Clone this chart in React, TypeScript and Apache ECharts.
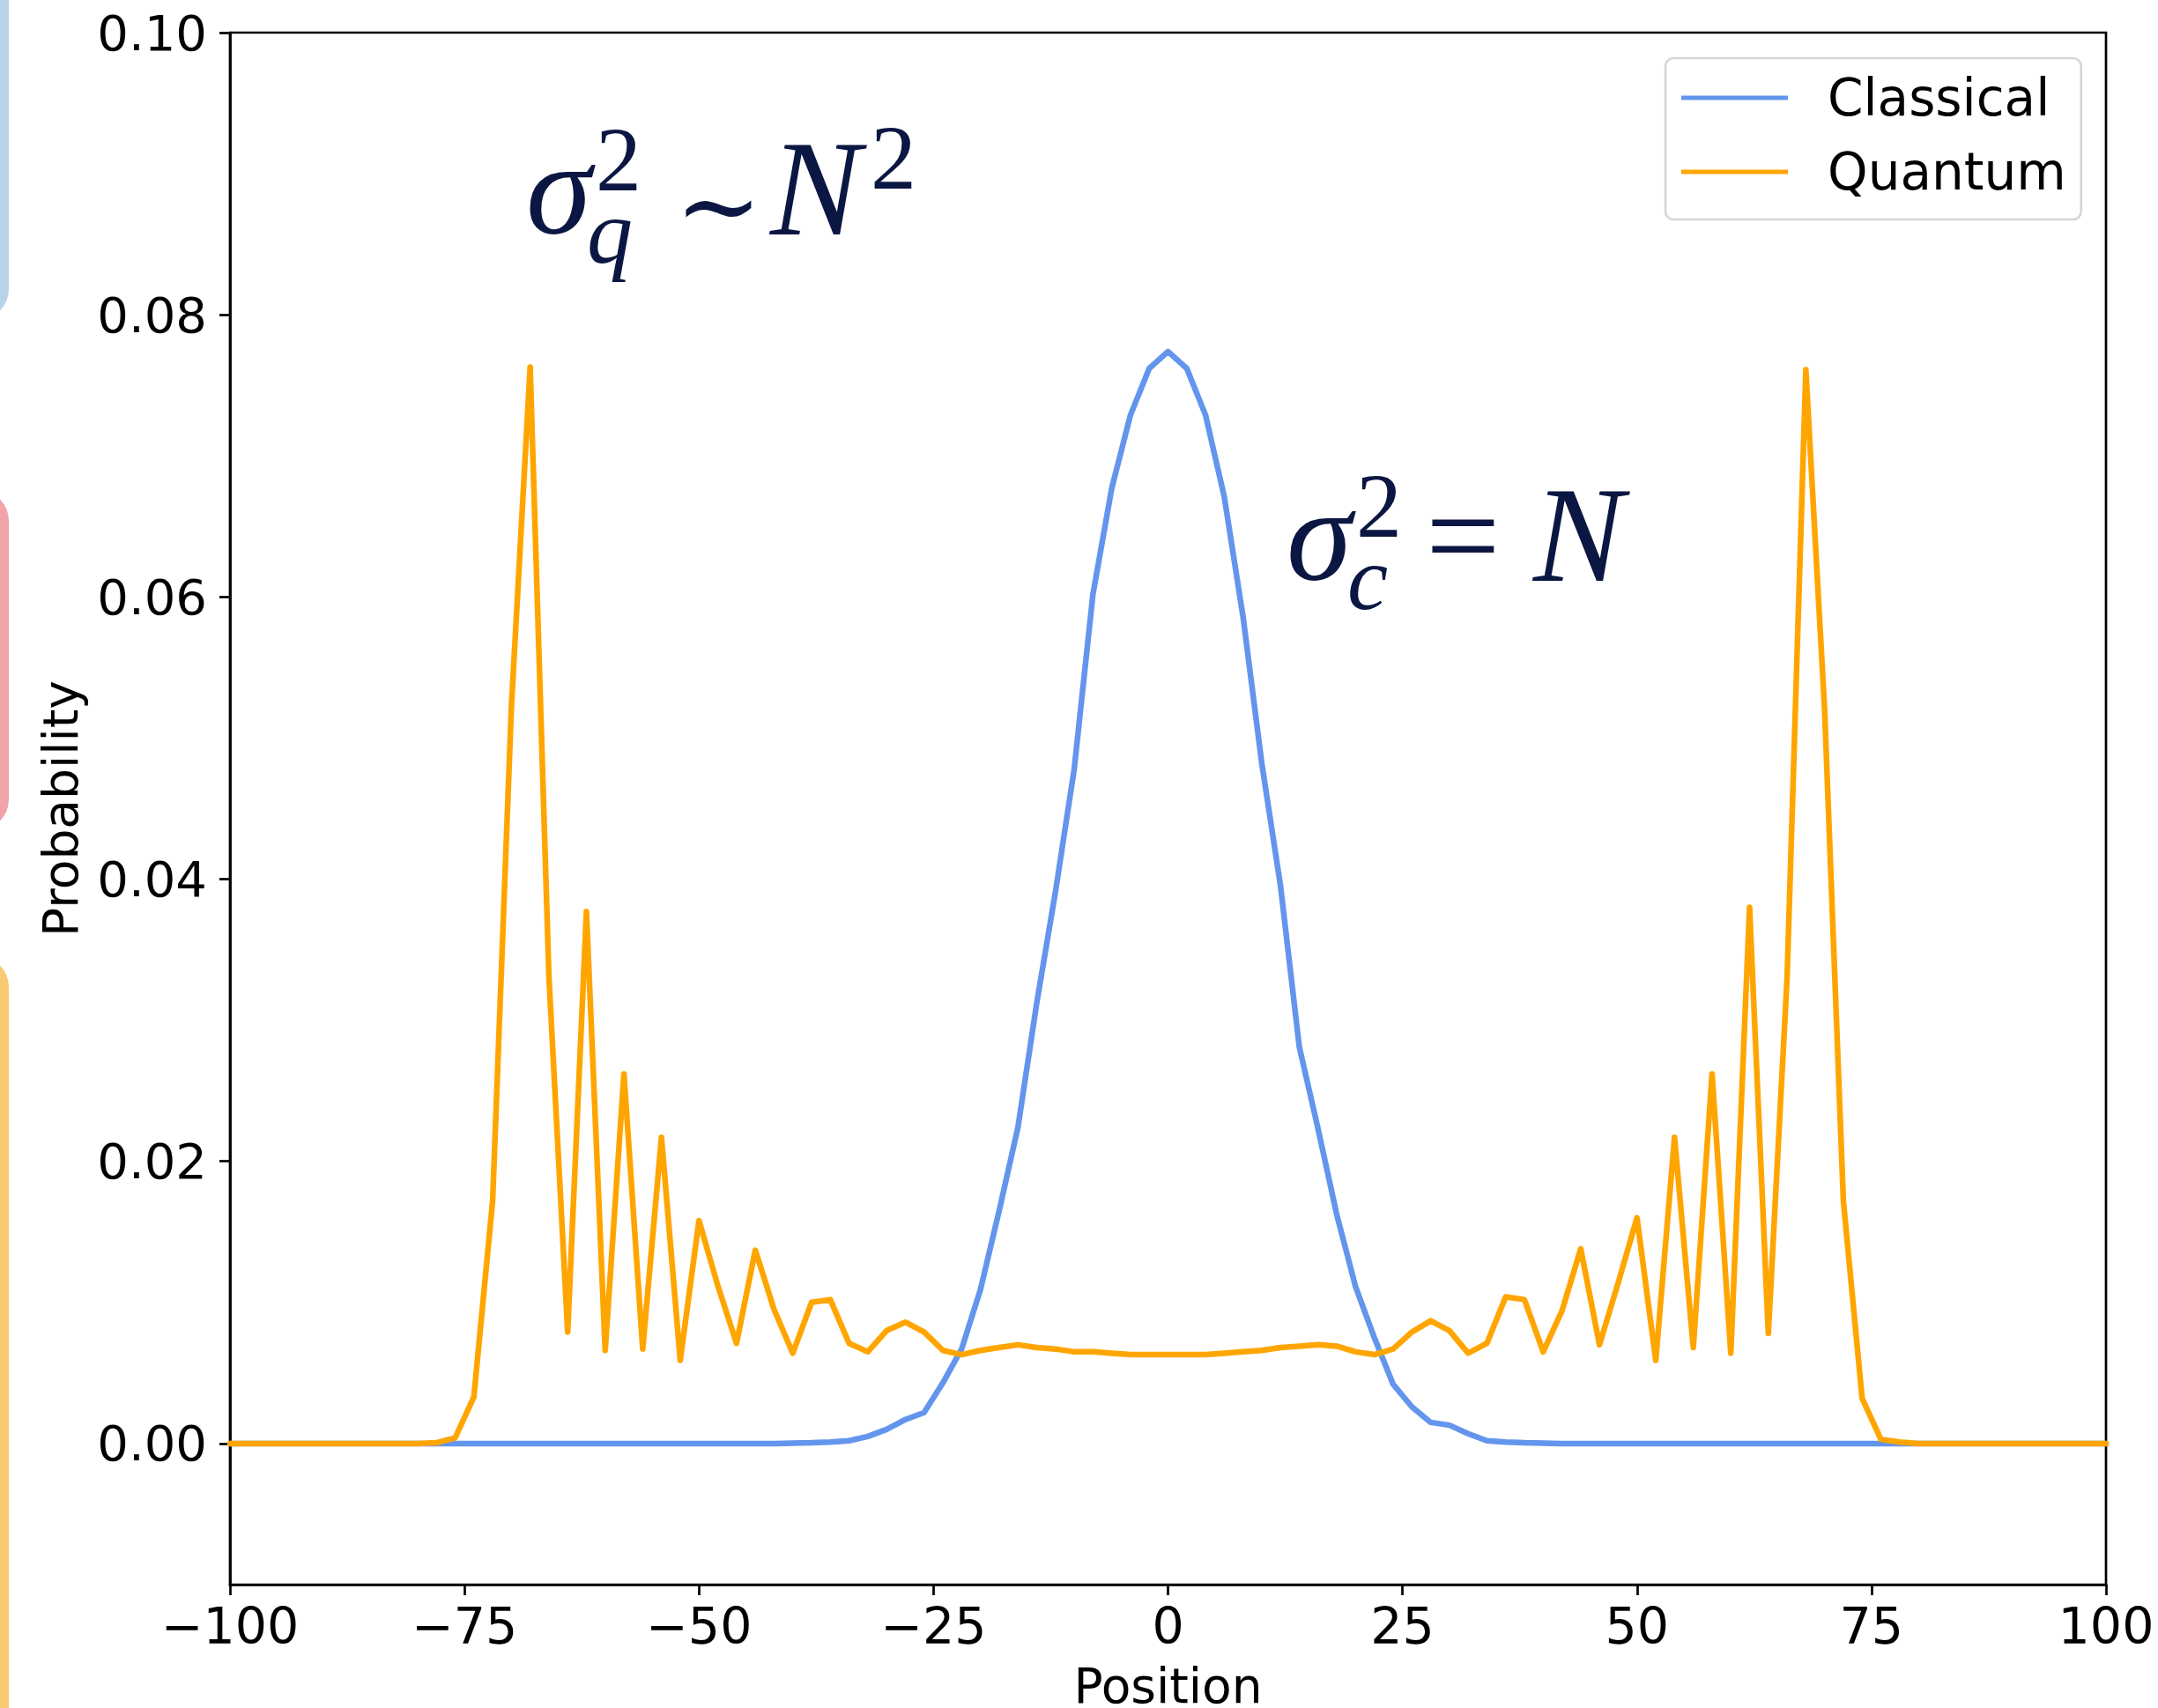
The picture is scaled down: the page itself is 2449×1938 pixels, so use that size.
import React, { useEffect, useRef } from 'react';
import * as echarts from 'echarts';

// Positions (even sites of the walk)
const positions = [
  -100, -98, -96, -94, -92, -90, -88, -86, -84, -82,
  -80, -78, -76, -74, -72, -70, -68, -66, -64, -62,
  -60, -58, -56, -54, -52, -50, -48, -46, -44, -42,
  -40, -38, -36, -34, -32, -30, -28, -26, -24, -22,
  -20, -18, -16, -14, -12, -10, -8, -6, -4, -2,
  0, 2, 4, 6, 8, 10, 12, 14, 16, 18,
  20, 22, 24, 26, 28, 30, 32, 34, 36, 38,
  40, 42, 44, 46, 48, 50, 52, 54, 56, 58,
  60, 62, 64, 66, 68, 70, 72, 74, 76, 78,
  80, 82, 84, 86, 88, 90, 92, 94, 96, 98,
  100,
];

const classical = [
  0, 0, 0, 0, 0, 0, 0, 0, 0, 0,
  0, 0, 0, 0, 0, 0, 0, 0, 0, 0,
  0, 0, 0, 0, 0, 0, 0, 0, 0, 0,
  0.00003, 0.00005, 0.0001, 0.0002, 0.0005, 0.0010, 0.0017, 0.0022, 0.0043, 0.0067,
  0.0109, 0.0165, 0.0224, 0.0312, 0.0391, 0.0478, 0.0602, 0.0677, 0.0729, 0.0762,
  0.0774, 0.0762, 0.0729, 0.0671, 0.0586, 0.0482, 0.0395, 0.0281, 0.0223, 0.0162,
  0.0111, 0.0075, 0.0042, 0.0026, 0.0015, 0.0013, 0.0007, 0.0002, 0.0001, 0.00005,
  0.00003, 0, 0, 0, 0, 0, 0, 0, 0, 0,
  0, 0, 0, 0, 0, 0, 0, 0, 0, 0,
  0, 0, 0, 0, 0, 0, 0, 0, 0, 0,
  0,
];

const quantum = [
  0, 0, 0, 0, 0, 0, 0, 0, 0, 0,
  0, 0.00005, 0.0004, 0.0033, 0.0172, 0.0522, 0.0763, 0.0331, 0.0079, 0.0377,
  0.0066, 0.0262, 0.0067, 0.0217, 0.0059, 0.0158, 0.0112, 0.0071, 0.0137, 0.0095,
  0.0064, 0.0100, 0.0102, 0.0071, 0.0065, 0.0080, 0.0086, 0.0079, 0.0066, 0.0063,
  0.0066, 0.0068, 0.0070, 0.0068, 0.0067, 0.0065, 0.0065, 0.0064, 0.0063, 0.0063,
  0.0063, 0.0063, 0.0063, 0.0064, 0.0065, 0.0066, 0.0068, 0.0069, 0.0070, 0.0069,
  0.0065, 0.0063, 0.0067, 0.0079, 0.0087, 0.0080, 0.0064, 0.0071, 0.0104, 0.0102,
  0.0065, 0.0094, 0.0138, 0.0070, 0.0114, 0.0160, 0.0059, 0.0217, 0.0068, 0.0262,
  0.0064, 0.0380, 0.0078, 0.0330, 0.0761, 0.0520, 0.0172, 0.0032, 0.0003, 0.0001,
  0, 0, 0, 0, 0, 0, 0, 0, 0, 0,
  0,
];

const seriesNames = ['Classical', 'Quantum'];
const yTicks = [0, 0.02, 0.04, 0.06, 0.08, 0.1];
const xAxisTitle = 'Position';
const yAxisTitle = 'Probability';

const BLUE = '#6495ED';
const ORANGE = '#FFA500';
const MATH = '#0b1742';

function mathText(text: string, x: number, yCenter: number, size: number, italic: boolean, family = 'Liberation Serif', lineHeight?: number) {
  return {
    type: 'text',
    x,
    y: yCenter,
    z: 20,
    style: {
      text,
      fill: MATH,
      fontSize: size,
      fontFamily: family,
      fontStyle: italic ? 'italic' : 'normal',
      lineHeight: lineHeight ?? Math.round(size * 0.62),
      align: 'left',
      verticalAlign: 'middle',
    },
  };
}

// superscript over subscript, as one two-line text (rich so the lower one is italic)
function scripts(sup: string, sub: string, x: number, supCenter: number, subCenter: number, size: number) {
  const gap = subCenter - supCenter;
  return {
    type: 'text',
    x,
    y: (supCenter + subCenter) / 2,
    z: 20,
    style: {
      text: `{u|${sup}}\n{d|${sub}}`,
      fill: MATH,
      fontSize: size,
      fontFamily: 'Liberation Serif',
      align: 'left',
      verticalAlign: 'middle',
      lineHeight: gap,
      rich: {
        u: { fontSize: size, fontFamily: 'Liberation Serif', fill: MATH, lineHeight: gap, padding: [0, 0, 0, 10] },
        d: { fontSize: size, fontFamily: 'Liberation Serif', fontStyle: 'italic', fill: MATH, lineHeight: gap },
      },
    },
  };
}

export default function App() {
  const ref = useRef<HTMLDivElement>(null);
  useEffect(() => {
    document.body.style.margin = '0';
    document.body.style.overflow = 'hidden';
    const chart = echarts.init(ref.current as HTMLDivElement, null, { renderer: 'svg' });
    const fmtX = (v: number) => (v < 0 ? '\u2212' + Math.abs(v) : String(v));
    const option: any = {
      animation: false,
      backgroundColor: '#ffffff',
      textStyle: { fontFamily: 'DejaVu Sans' },
      grid: {
        left: 261,
        right: 59,
        top: 37,
        bottom: 140,
        show: true,
        borderColor: '#000',
        borderWidth: 2.7,
        containLabel: false,
        outerBoundsMode: 'none',
      },
      legend: {
        orient: 'vertical',
        left: 1890,
        top: 66,
        icon: 'rect',
        itemWidth: 121,
        itemHeight: 5,
        itemGap: 22,
        padding: [14, 17, 23, 18],
        borderColor: '#d6d6d6',
        borderWidth: 2.7,
        borderRadius: 9,
        backgroundColor: 'rgba(255,255,255,0.8)',
        textStyle: {
          fontSize: 58,
          lineHeight: 62,
          fontFamily: 'DejaVu Sans',
          color: '#000',
          padding: [0, 0, 0, 40],
        },
        data: seriesNames,
      },
      xAxis: {
        type: 'value',
        min: -100,
        max: 100,
        interval: 25,
        name: xAxisTitle,
        nameLocation: 'middle',
        nameGap: 95,
        nameTextStyle: { fontSize: 55, lineHeight: 40, color: '#000', fontFamily: 'DejaVu Sans' },
        axisLine: { show: true, onZero: false, lineStyle: { color: '#000', width: 2.7 } },
        axisTick: { show: true, length: 12, lineStyle: { color: '#000', width: 2.7 } },
        axisLabel: { margin: 18, fontSize: 57, color: '#000', fontFamily: 'DejaVu Sans', formatter: fmtX },
        splitLine: { show: false },
      },
      yAxis: {
        type: 'value',
        min: -0.01,
        max: 0.1,
        name: yAxisTitle,
        nameLocation: 'middle',
        nameGap: 165,
        nameTextStyle: { fontSize: 55, color: '#000', fontFamily: 'DejaVu Sans' },
        axisLine: { show: true, onZero: false, lineStyle: { color: '#000', width: 2.7 } },
        axisTick: { show: true, length: 12, customValues: yTicks, lineStyle: { color: '#000', width: 2.7 } },
        axisLabel: {
          margin: 26,
          fontSize: 56,
          color: '#000',
          fontFamily: 'DejaVu Sans',
          customValues: yTicks,
          formatter: (v: number) => v.toFixed(2),
        },
        splitLine: { show: false },
      },
      series: [
        {
          name: seriesNames[0],
          type: 'line',
          data: positions.map((p, i) => [p, classical[i]]),
          showSymbol: false,
          symbol: 'none',
          lineStyle: { color: BLUE, width: 6.5, join: 'round', cap: 'round' },
          itemStyle: { color: BLUE },
          z: 2,
        },
        {
          name: seriesNames[1],
          type: 'line',
          data: positions.map((p, i) => [p, quantum[i]]),
          showSymbol: false,
          symbol: 'none',
          lineStyle: { color: ORANGE, width: 6.5, join: 'round', cap: 'round' },
          itemStyle: { color: ORANGE },
          z: 3,
        },
      ],
      graphic: [
        { type: 'rect', z: 1, shape: { x: -60, y: -100, width: 70, height: 463, r: 35 }, style: { fill: '#b8d5e7' } },
        { type: 'rect', z: 1, shape: { x: -60, y: 556, width: 70, height: 386, r: 35 }, style: { fill: '#f0a3a8' } },
        { type: 'rect', z: 1, shape: { x: -60, y: 1085, width: 70, height: 1000, r: 35 }, style: { fill: '#fbc96f' } },
        // sigma_q^2 ~ N^2
        mathText('\u03c3', 597, 214, 150, true),
        scripts('2', 'q', 666, 180, 262, 104),
        mathText('\u223c', 766, 233, 118, false, 'DejaVu Serif'),
        mathText('N', 874, 214, 154, true),
        mathText('2', 988, 178, 104, false),
        // sigma_c^2 = N
        mathText('\u03c3', 1460, 607, 150, true),
        scripts('2', 'c', 1529, 573, 655, 104),
        mathText('=', 1618, 607, 150, false),
        mathText('N', 1740, 607, 154, true),
      ],
    };
    chart.setOption(option);
    return () => chart.dispose();
  }, []);
  return <div ref={ref} style={{ width: 2449, height: 1938 }} />;
}
